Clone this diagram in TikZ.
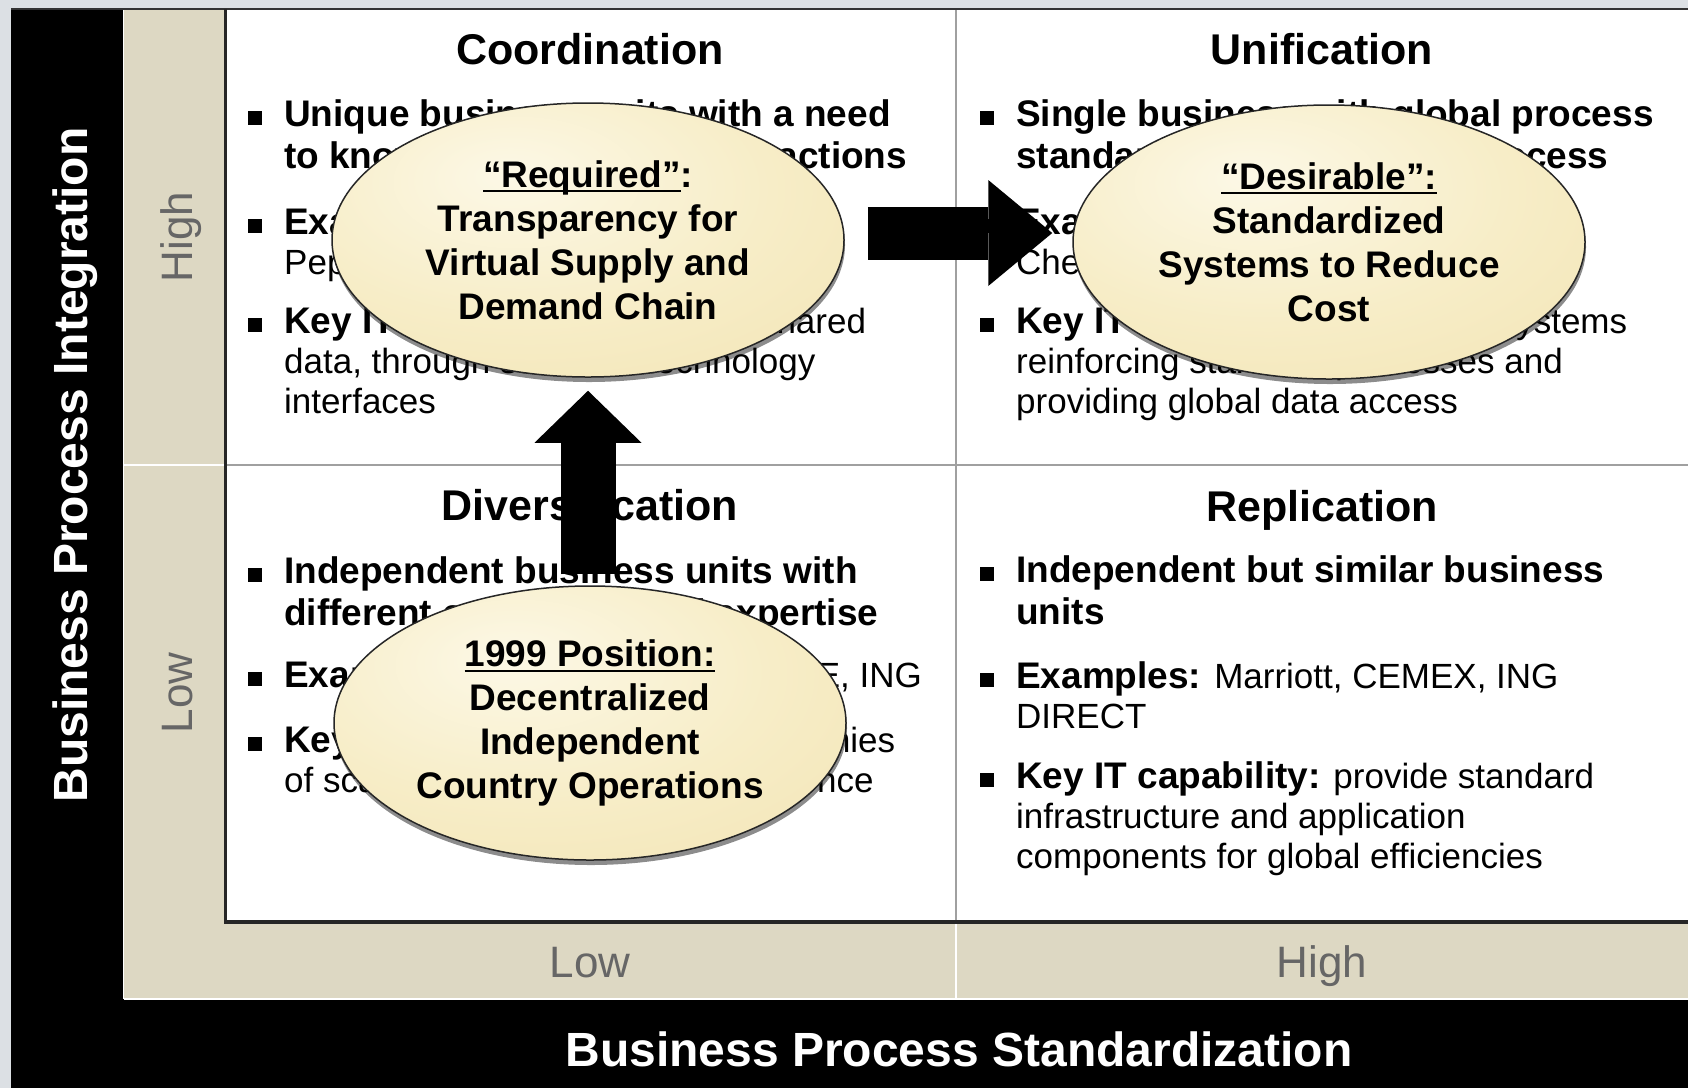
\documentclass[tikz,border=0pt]{standalone}
\usepackage{fontspec}
\setmainfont{Liberation Sans}
\usetikzlibrary{shapes.geometric,arrows.meta,shadows}

\definecolor{frame}{HTML}{DCE0E4}
\definecolor{band}{HTML}{DDD8C3}
\definecolor{levelgrey}{HTML}{666666}
\definecolor{divgrey}{HTML}{A0A0A0}
\definecolor{eggA}{RGB}{252,248,230}
\definecolor{eggB}{RGB}{247,237,199}
\definecolor{eggC}{RGB}{242,228,180}
\definecolor{eggD}{RGB}{214,196,142}

\pgfdeclarelayer{background}
\pgfdeclarelayer{front}
\pgfsetlayers{background,main,front}

\pgfdeclareradialshading{eggshade}{\pgfpoint{-8bp}{12bp}}{%
  color(0bp)=(eggA); color(24bp)=(eggB); color(46bp)=(eggC);
  color(58bp)=(eggD); color(100bp)=(eggD)}

% fonts
\newcommand{\headfont}{\fontsize{43}{50}\selectfont\bfseries}
\newcommand{\bodyfont}{\fontsize{35}{40}\selectfont}
\newcommand{\keyfont}{\fontsize{37}{42}\selectfont\bfseries}
\newcommand{\key}[1]{{\fontsize{37}{40}\selectfont\bfseries #1}}

% thick underline for the bubble titles
\newsavebox{\undlbox}
\newcommand{\undl}[1]{\sbox{\undlbox}{#1}\rlap{\rule[-5pt]{\wd\undlbox}{2pt}}\usebox{\undlbox}}

% one bullet: name, position of first baseline, text
\newcommand{\bitem}[3]{%
  \node[anchor=base west, inner sep=0pt] (#1) at (#2)
    {\rule[1pt]{14pt}{14pt}\hspace{22pt}\parbox[t]{720pt}{#3}};}

\tikzset{
  head/.style={anchor=base, inner sep=0pt, font=\headfont},
  axis/.style={anchor=base, inner sep=0pt, text=white, font=\fontsize{48}{52}\selectfont\bfseries},
  level/.style={anchor=base, inner sep=0pt, text=levelgrey, font=\fontsize{44}{48}\selectfont},
  egg/.style={ellipse, minimum width=512pt, minimum height=274pt, inner sep=0pt,
    align=center, font=\fontsize{37}{44}\selectfont\bfseries,
    shading=eggshade, draw=black!85, line width=1.5pt,
    drop shadow={shadow xshift=1pt, shadow yshift=-5pt, fill=black, opacity=0.45}},
  blockarrow/.style={line width=55pt, -{Triangle[length=52pt, width=107pt, line width=0pt]}}
}

\begin{document}
\begin{tikzpicture}[x=1pt, y=-1pt]
\useasboundingbox (0,0) rectangle (1688,1088);

% frame, bands and quadrants
\begin{pgfonlayer}{background}
\fill[frame] (0,0) rectangle (1688,1088);
\fill[black] (11,9) rectangle (1688,1088);
\fill[band] (124,10) rectangle (224,999) (124,922) rectangle (1688,999);
\fill[white] (224,10) rectangle (1688,922);
\end{pgfonlayer}
\draw[black!80, line width=2pt] (11,9) -- (1688,9);
\draw[divgrey, line width=2pt] (956,10) -- (956,922) (224,465) -- (1688,465);
\draw[white, line width=2.5pt] (124,465) -- (224,465) (956,922) -- (956,999) (124,999) -- (1688,999);
\draw[white, line width=1pt] (123.5,10) -- (123.5,999);
\draw[black!85, line width=3.5pt] (225.5,9) -- (225.5,922) -- (1688,922);

% axes
\node[axis, rotate=90] (yaxis) at (87,465) {Business Process Integration};
\node[axis] (xaxis) at (959,1066) {Business Process Standardization};
\node[level, rotate=90] (yhigh) at (192,237) {High};
\node[level, rotate=90] (ylow) at (192,693) {Low};
\node[level] (xlow) at (590,977) {Low};
\node[level] (xhigh) at (1322,977) {High};

% quadrant headings
\node[head] (hcoord) at (590,64) {Coordination};
\node[head] (hunif) at (1322,64) {Unification};
\node[head] (hdiv) at (590,520) {Diversification};
\node[head] (hrep) at (1322,521) {Replication};

% coordination
\bitem{coord1}{248,126}{\keyfont Unique business units with a need\\to know one another's transactions}
\bitem{coord2}{248,234}{\bodyfont\key{Examples:} MetLife, Toyota,\\PepsiAmericas}
\bitem{coord3}{248,333}{\bodyfont\key{Key IT capability:} access to shared\\data, through standard technology\\interfaces}

% unification
\bitem{unif1}{980,126}{\keyfont Single business with global process\\standards and global data access}
\bitem{unif2}{980,234}{\bodyfont\key{Examples:} Delta Air Lines, Dow\\Chemical}
\bitem{unif3}{980,333}{\bodyfont\key{Key IT capability:} enterprise systems\\reinforcing standard processes and\\providing global data access}

% diversification
\bitem{div1}{248,583}{\keyfont Independent business units with\\different customers and expertise}
\bitem{div2}{248,687}{\bodyfont\key{Examples:} Johnson\&Johnson, GE, ING}
\bitem{div3}{248,752}{\bodyfont\key{Key IT capability:} provide economies\\of scale without limiting independence}

% replication
\bitem{rep1}{980,582}{\keyfont Independent but similar business\\units}
\bitem{rep2}{980,688}{\bodyfont\key{Examples:} Marriott, CEMEX, ING\\DIRECT}
\bitem{rep3}{980,788}{\bodyfont\key{Key IT capability:} provide standard\\infrastructure and application\\components for global efficiencies}

% positions
\begin{pgfonlayer}{front}
\node[egg] (req) at (588,240) {\undl{“Required”}:\\Transparency for\\Virtual Supply and\\Demand Chain};
\node[egg] (des) at (1329,242) {\undl{“Desirable”:}\\Standardized\\Systems to Reduce\\Cost};
\node[egg] (pos) at (590,723) {\undl{1999 Position:}\\Decentralized\\Independent\\Country Operations};
\end{pgfonlayer}

% moves
\coordinate (rq) at ([yshift=7pt]req.east);
\draw[blockarrow, shorten <=11pt, shorten >=13pt] (req.south |- pos.north) -- (req.south);
\draw[blockarrow, line width=53pt, -{Triangle[length=64pt, width=106pt, line width=0pt]},
  shorten <=23pt, shorten >=20pt] (rq) -- (rq -| des.west);
\end{tikzpicture}
\end{document}
